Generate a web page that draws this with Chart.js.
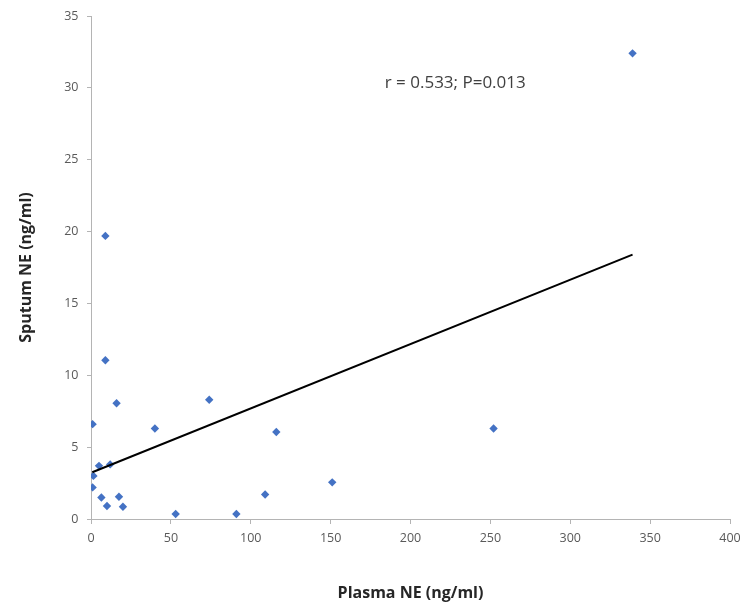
<!DOCTYPE html>
<html>
<head>
<meta charset="utf-8">
<script src="https://cdn.jsdelivr.net/npm/chart.js@4.4.1/dist/chart.umd.min.js"></script>
<style>
html,body{margin:0;padding:0;background:#fff;}
#wrap{width:750px;height:612px;position:relative;}
</style>
</head>
<body>
<div id="wrap"><canvas id="c" width="750" height="612"></canvas></div>
<script>
// Data
const plasmaNE = [1, 16, 74, 40, 5, 12, 1.5, 1, 6.5, 17.5, 10, 20, 53, 91, 116, 252, 109, 151, 9, 9, 339];
const sputumNE = [6.6, 8.05, 8.3, 6.3, 3.7, 3.8, 3.0, 2.2, 1.5, 1.55, 0.9, 0.85, 0.35, 0.35, 6.05, 6.3, 1.7, 2.55, 19.7, 11.05, 32.4];
const trendX = [0.8, 339];
const trendY = [3.25, 18.4];
const xTicks = [0, 50, 100, 150, 200, 250, 300, 350, 400];
const yTicks = [0, 5, 10, 15, 20, 25, 30, 35];
const annotationText = 'r = 0.533; P=0.013';
const annotationAt = [228, 30.3];

const FONT = "'Open Sans', 'Liberation Sans', sans-serif";

const annotPlugin = {
  id: 'annot',
  afterDatasetsDraw(chart) {
    const {ctx, scales: {x, y}} = chart;
    ctx.save();
    ctx.font = "17px " + FONT;
    ctx.fillStyle = '#404040';
    ctx.textAlign = 'center';
    ctx.textBaseline = 'middle';
    ctx.fillText(annotationText, x.getPixelForValue(annotationAt[0]), y.getPixelForValue(annotationAt[1]));
    ctx.restore();
  }
};

new Chart(document.getElementById('c'), {
  type: 'scatter',
  data: {
    datasets: [
      {
        label: 'Points',
        data: plasmaNE.map((v, i) => ({x: v, y: sputumNE[i]})),
        pointStyle: 'rectRot',
        pointRadius: 4.2,
        backgroundColor: '#4472C4',
        borderColor: '#4472C4',
        borderWidth: 0,
        order: 2
      },
      {
        label: 'Trend',
        type: 'line',
        data: trendX.map((v, i) => ({x: v, y: trendY[i]})),
        borderColor: '#000000',
        borderWidth: 2,
        pointRadius: 0,
        fill: false,
        order: 1
      }
    ]
  },
  options: {
    responsive: false,
    animation: false,
    layout: {padding: {left: 0, top: 11, right: 20, bottom: 0}},
    plugins: {legend: {display: false}, tooltip: {enabled: false}},
    scales: {
      x: {
        type: 'linear',
        min: 0, max: 400,
        afterBuildTicks(scale) { scale.ticks = xTicks.map(v => ({value: v})); },
        afterFit(scale) { scale.height = 612 - 519; },
        grid: {display: true, drawOnChartArea: false, drawTicks: true, tickLength: 5, color: '#b4b4b4'},
        border: {display: true, color: '#b4b4b4', width: 1},
        ticks: {padding: 7, color: '#595959', font: {family: FONT, size: 12.5}},
        title: {display: true, text: 'Plasma NE (ng/ml)', color: '#262626', font: {family: FONT, size: 16, weight: 'bold'}, padding: {top: 0, bottom: 9}}
      },
      y: {
        type: 'linear',
        min: 0, max: 35,
        afterBuildTicks(scale) { scale.ticks = yTicks.map(v => ({value: v})); },
        afterFit(scale) { scale.width = 91; },
        grid: {display: true, drawOnChartArea: false, drawTicks: true, tickLength: 4, color: '#b4b4b4'},
        border: {display: true, color: '#b4b4b4', width: 1},
        ticks: {padding: 8.5, color: '#595959', font: {family: FONT, size: 12.5}},
        title: {display: true, text: 'Sputum NE (ng/ml)', color: '#262626', font: {family: FONT, size: 16, weight: 'bold'}, padding: {top: 17, bottom: 0}}
      }
    }
  },
  plugins: [annotPlugin]
});
</script>
</body>
</html>
